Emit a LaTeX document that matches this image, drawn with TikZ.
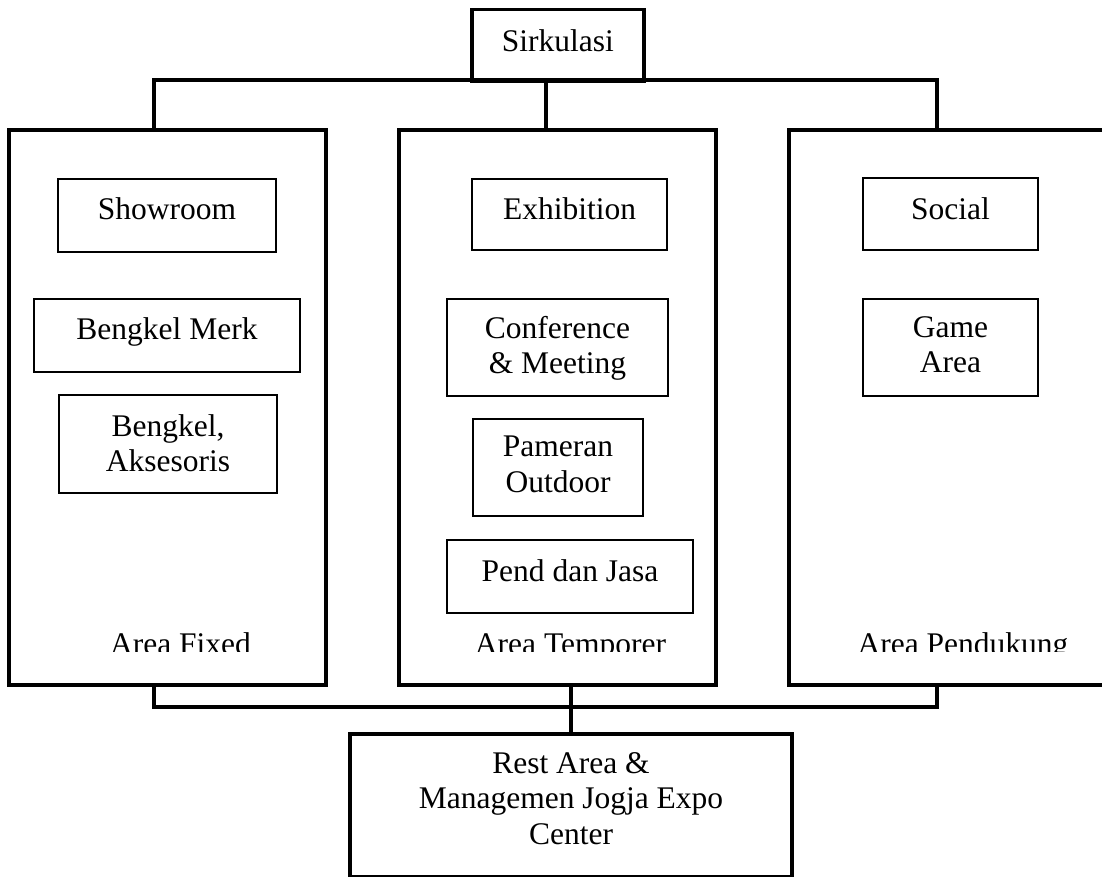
\documentclass[tikz,border=0pt]{standalone}
\usepackage{fontspec}
\setmainfont{Liberation Serif}
\begin{document}
\begin{tikzpicture}[x=1pt,y=-1pt,
  sz/.style 2 args={minimum width=#1pt, minimum height=#2pt},
  outer/.style={draw, line width=4pt, rectangle, anchor=north west, inner sep=0pt},
  inbox/.style={draw, line width=2pt, rectangle, anchor=north west, inner sep=0pt},
  lbl/.style={inner sep=0pt, align=center, font=\fontsize{31.5}{35.5}\selectfont},
  wire/.style={line width=4pt}]
\useasboundingbox (0,0) rectangle (1102,877);
\clip (0,0) rectangle (1102,877);

% top node and the three zones
\node[outer, line width=3.5pt, sz={172}{72}] (sirk) at (470,8) {};
\node[outer, sz={317}{555}] (fixed) at (7,128) {};
\node[outer, sz={317}{555}] (temp) at (397,128) {};
\node[outer, sz={320}{555}] (pend) at (787,128) {};
\node[outer, sz={442}{143}] (rest) at (348,732) {};

% rooms inside the zones
\node[inbox, sz={218}{73}] (showroom) at (57,178) {};
\node[inbox, sz={266}{73}] (bmerk) at (33,298) {};
\node[inbox, sz={218}{98}] (baks) at (58,394) {};
\node[inbox, sz={195}{71}] (exhib) at (471,178) {};
\node[inbox, sz={221}{97}] (conf) at (446,298) {};
\node[inbox, sz={170}{97}] (pameran) at (472,418) {};
\node[inbox, sz={246}{73}] (pendjasa) at (446,539) {};
\node[inbox, sz={175}{72}] (social) at (862,177) {};
\node[inbox, sz={175}{97}] (game) at (862,298) {};

% texts
\node[lbl, anchor=north] (tsirk) at ([yshift=-21pt]sirk.north) {Sirkulasi};
\node[lbl, anchor=north] (tshow) at ([yshift=-19pt]showroom.north) {Showroom};
\node[lbl, anchor=north] (tbmerk) at ([yshift=-19pt]bmerk.north) {Bengkel Merk};
\node[lbl, anchor=north] (tbaks) at ([yshift=-20pt]baks.north) {Bengkel,\\Aksesoris};
\node[lbl, anchor=north] (texhib) at ([yshift=-19pt]exhib.north) {Exhibition};
\node[lbl, anchor=north] (tconf) at ([yshift=-18pt]conf.north) {Conference\\\& Meeting};
\node[lbl, anchor=north] (tpam) at ([yshift=-18pt]pameran.north) {Pameran\\Outdoor};
\node[lbl, anchor=north] (tpj) at ([yshift=-20pt]pendjasa.north) {Pend dan Jasa};
\node[lbl, anchor=north] (tsoc) at ([yshift=-20pt]social.north) {Social};
\node[lbl, anchor=north] (tgame) at ([yshift=-18pt]game.north) {Game\\Area};
\node[lbl, anchor=north] (trest) at ([yshift=-20pt]rest.north) {Rest Area \&\\Managemen Jogja Expo\\Center};

% zone names, cut off just below the baseline
\begin{scope}
  \clip (0,0) rectangle (1102,651.5);
  \node[lbl, anchor=base] (lfixed) at ([xshift=13pt,yshift=33pt]fixed.south) {Area Fixed};
  \node[lbl, anchor=base] (ltemp) at ([xshift=13pt,yshift=33pt]temp.south) {Area Temporer};
  \node[lbl, anchor=base] (lpend) at ([xshift=14pt,yshift=33pt]pend.south) {Area Pendukung};
\end{scope}

% circulation lines
\coordinate (ta) at (154,80);
\coordinate (tb) at (546,80);
\coordinate (tc) at (937,80);
\coordinate (ba) at (154,707);
\coordinate (bc) at (937,707);
\draw[wire] (ta |- fixed.north) -- (ta) -- (tc) -- (tc |- pend.north);
\draw[wire] (tb) -- (tb |- temp.north);
\draw[wire] (ba |- fixed.south) -- (ba) -- (bc) -- (bc |- pend.south);
\draw[wire] (temp.south -| rest.north) -- (rest.north);
\end{tikzpicture}
\end{document}
